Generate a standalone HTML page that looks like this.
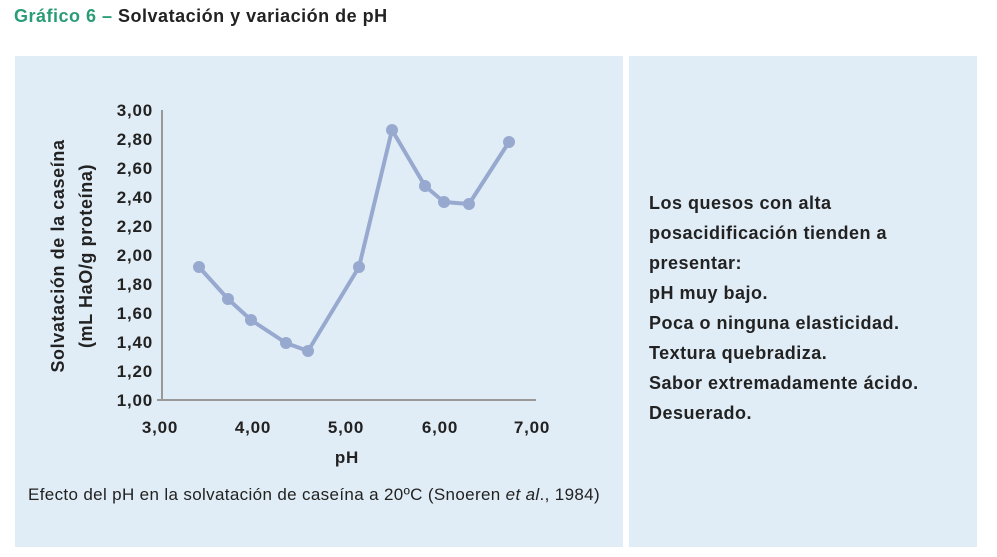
<!DOCTYPE html>
<html><head><meta charset="utf-8"><style>
body{margin:0;width:997px;height:557px;background:#fff;position:relative;font-family:"Liberation Sans",sans-serif;color:#222;overflow:hidden}
.p{position:absolute;background:#e1edf6}
.t{position:absolute;white-space:nowrap}
</style></head><body>
<div class="t" style="left:14px;top:6px;font-size:18px;font-weight:bold;letter-spacing:0.5px"><span style="color:#2a9d78">Gráfico 6 –</span> Solvatación y variación de pH</div>
<div class="p" style="left:15px;top:56px;width:608px;height:491px"></div>
<div class="p" style="left:629px;top:56px;width:348px;height:491px"></div>
<svg width="997" height="557" style="position:absolute;left:0;top:0" font-family="Liberation Sans, sans-serif">
<g stroke="#999" stroke-width="2" fill="none">
<line x1="162" y1="110" x2="162" y2="401"/>
<line x1="157" y1="400" x2="536" y2="400"/>
</g>
<g font-size="17" fill="#222" text-anchor="end" font-weight="bold" letter-spacing="0.8">
<text x="153" y="116">3,00</text><text x="153" y="145">2,80</text><text x="153" y="174">2,60</text><text x="153" y="203">2,40</text><text x="153" y="232">2,20</text><text x="153" y="261">2,00</text><text x="153" y="290">1,80</text><text x="153" y="319">1,60</text><text x="153" y="348">1,40</text><text x="153" y="377">1,20</text><text x="153" y="406">1,00</text>
</g>
<g font-size="17" fill="#222" text-anchor="middle" font-weight="bold" letter-spacing="0.8">
<text x="160" y="433">3,00</text><text x="253" y="433">4,00</text><text x="346" y="433">5,00</text><text x="440" y="433">6,00</text><text x="532" y="433">7,00</text>
<text x="347" y="463">pH</text>
</g>
<g font-size="18" fill="#222" text-anchor="middle" font-weight="bold" letter-spacing="0.6">
<text transform="translate(64,256) rotate(-90)">Solvatación de la caseína</text>
<text transform="translate(92,256) rotate(-90)">(mL HaO/g proteína)</text>
</g>
<polyline fill="none" stroke="#97a9cf" stroke-width="4" stroke-linejoin="round" points="199,267 228,299 251,320 286,343 308,351 359,267 392,130 425,186 444,202 469,204 509,142"/>
<g fill="#97a9cf">
<circle cx="199" cy="267" r="6"/><circle cx="228" cy="299" r="6"/><circle cx="251" cy="320" r="6"/><circle cx="286" cy="343" r="6"/><circle cx="308" cy="351" r="6"/><circle cx="359" cy="267" r="6"/><circle cx="392" cy="130" r="6"/><circle cx="425" cy="186" r="6"/><circle cx="444" cy="202" r="6"/><circle cx="469" cy="204" r="6"/><circle cx="509" cy="142" r="6"/>
</g>
<text x="28" y="500" font-size="17" fill="#222" letter-spacing="0.35">Efecto del pH en la solvatación de caseína a 20ºC (Snoeren <tspan font-style="italic">et al</tspan>., 1984)</text>
</svg>
<div class="t" style="left:649px;top:188px;font-size:18px;font-weight:bold;line-height:30px;letter-spacing:0.5px">Los quesos con alta<br>posacidificación tienden a<br>presentar:<br>pH muy bajo.<br>Poca o ninguna elasticidad.<br>Textura quebradiza.<br>Sabor extremadamente ácido.<br>Desuerado.</div>
</body></html>
